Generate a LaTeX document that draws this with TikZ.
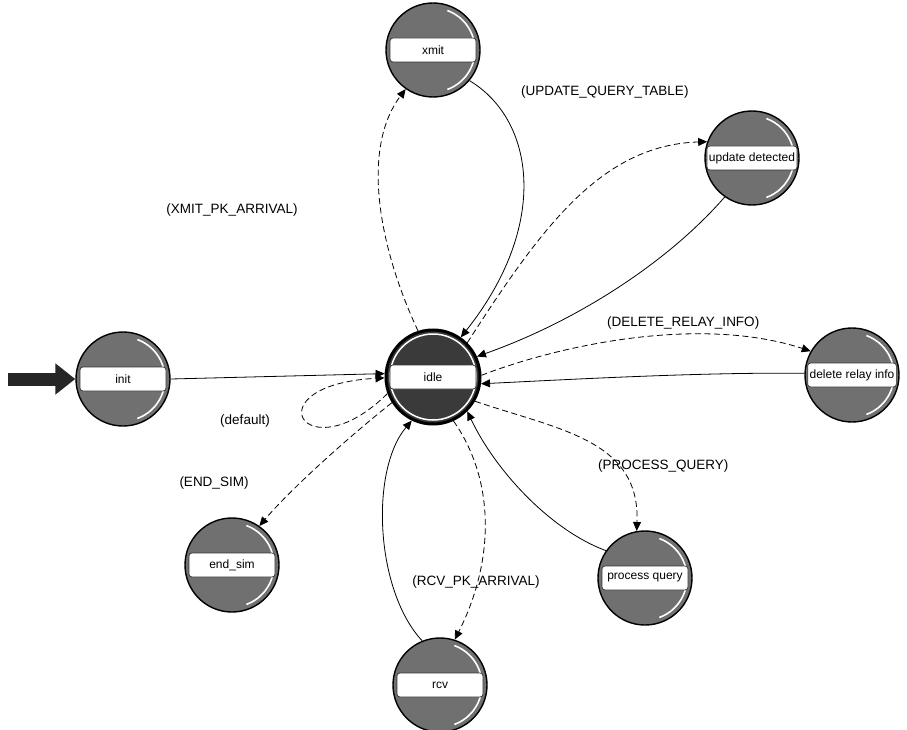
\documentclass[tikz,border=0pt]{standalone}
\usepackage{fontspec}
\setmainfont{Liberation Sans}
\usetikzlibrary{arrows.meta}
\definecolor{stategray}{RGB}{112,112,112}
\definecolor{idlegray}{RGB}{58,58,58}
\begin{document}
\begin{tikzpicture}[x=1pt,y=-1pt,
  state/.style={circle, minimum size=94pt, inner sep=0pt, fill=stategray, draw=black, line width=1.4pt},
  idlestate/.style={state, fill=idlegray, line width=3pt},
  band/.style={rounded corners=3pt, fill=white, draw=black!80, line width=0.7pt, minimum height=24pt, minimum width=86pt, inner sep=2pt, font=\fontsize{12}{14}\selectfont},
  trans/.style={-{Triangle[length=9pt,width=8pt]}, line width=0.8pt},
  cond/.style={trans, dash pattern=on 6pt off 3.5pt},
  lbl/.style={font=\fontsize{13.5}{15}\selectfont, inner sep=1pt},
  hl/.style={white, line width=1.6pt}
]
\useasboundingbox (0,0) rectangle (907,730);
\fill[white] (0,0) rectangle (907,730);

% states
\node[state] (xmit) at (433,50) {};
\node[state] (upd) at (752,158) {};
\node[state] (init) at (123,379) {};
\node[idlestate] (idle) at (433,377) {};
\node[state] (del) at (852,375) {};
\node[state] (endsim) at (232,565) {};
\node[state] (rcv) at (440,685) {};
\node[state] (pq) at (645,578) {};

\foreach \n in {xmit,upd,init,del,endsim,rcv,pq}
  \draw[hl] ([shift={(-70:42pt)}]\n.center) arc[start angle=-70,end angle=70,radius=42pt];
\draw[white, line width=1.5pt] (idle.center) circle[radius=43pt];

\node[band] (xmit-t) at (xmit) {xmit};
\node[band] (upd-t) at (upd) {update detected};
\node[band] (init-t) at (init) {init};
\node[band] (idle-t) at (idle) {idle};
\node[band] (del-t) at (del) {delete relay info};
\node[band] (endsim-t) at (endsim) {end\_sim};
\node[band] (rcv-t) at (rcv) {rcv};
\node[band] (pq-t) at (pq) {process query};

% initial arrow
\coordinate (start) at (8,379);
\draw[line width=13pt, black!85, -{Triangle[length=20pt,width=30pt]}] (start) -- (init.west);

% transitions
\draw[trans] (init.east) -- (idle.176);
\draw[cond] (idle.200) .. controls (305,475) and (250,385) .. (idle.181);
\draw[cond] (idle.108) .. controls (380,250) and (360,150) .. (xmit.235);
\draw[trans] (xmit.-40) .. controls (535,120) and (550,225) .. (idle.55);
\draw[cond] (idle.45) .. controls (540,230) and (600,145) .. (upd.160);
\draw[trans] (upd.235) .. controls (670,260) and (580,320) .. (idle.25);
\draw[cond] (idle.2) .. controls (560,345) and (700,315) .. (del.150);
\draw[trans] (del.178) .. controls (700,372) and (560,380) .. (idle.-8);
\draw[cond] (idle.-30) .. controls (560,430) and (640,440) .. (pq.100);
\draw[trans] (pq.145) .. controls (550,530) and (495,470) .. (idle.-45);
\draw[cond] (idle.-65) .. controls (495,480) and (495,560) .. (rcv.72);
\draw[trans] (rcv.112) .. controls (375,590) and (370,470) .. (idle.-116);
\draw[cond] (idle.212) .. controls (345,440) and (290,490) .. (endsim.55);

% labels
\node[lbl] (l-xmit) at (232,210) {(XMIT\_PK\_ARRIVAL)};
\node[lbl, anchor=west] (l-upd) at (520,92) {(UPDATE\_QUERY\_TABLE)};
\node[lbl, anchor=west] (l-del) at (606,323) {(DELETE\_RELAY\_INFO)};
\node[lbl] (l-def) at (245,421) {(default)};
\node[lbl] (l-end) at (214,483) {(END\_SIM)};
\node[lbl] (l-rcv) at (476,582) {(RCV\_PK\_ARRIVAL)};
\node[lbl, anchor=west] (l-pq) at (597,466) {(PROCESS\_QUERY)};
\end{tikzpicture}
\end{document}
